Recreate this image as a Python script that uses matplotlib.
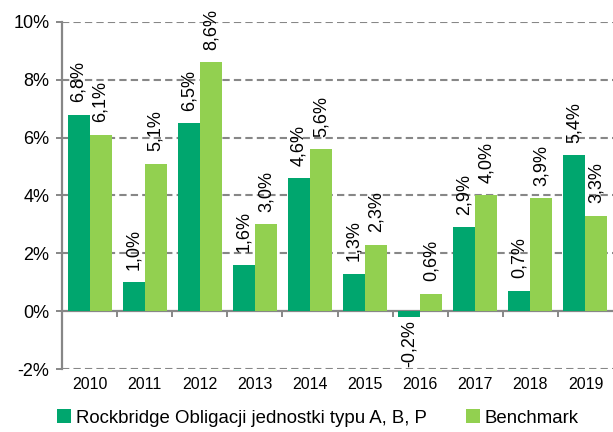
import matplotlib
matplotlib.use("Agg")
import matplotlib.pyplot as plt
import matplotlib.transforms as mtransforms
import numpy as np

plt.rcParams['font.family'] = ['Liberation Sans', 'DejaVu Sans']

years = ["2010", "2011", "2012", "2013", "2014", "2015", "2016", "2017", "2018", "2019"]
fund = [6.8, 1.0, 6.5, 1.6, 4.6, 1.3, -0.2, 2.9, 0.7, 5.4]
bench = [6.1, 5.1, 8.6, 3.0, 5.6, 2.3, 0.6, 4.0, 3.9, 3.3]
fund_name = "Rockbridge Obligacji jednostki typu A, B, P"
bench_name = "Benchmark"

dark = "#00A66E"
light = "#92D050"
grey = "#878787"

fig = plt.figure(figsize=(6.13, 4.32), dpi=100)
ax = fig.add_axes([62/613, 1-369/432, 551/613, (369-22)/432])

x = np.arange(len(years))
w = 0.4
b1 = ax.bar(x - w/2, fund, w, color=dark, label=fund_name, zorder=3)
b2 = ax.bar(x + w/2, bench, w, color=light, label=bench_name, zorder=3)

def fmt(v):
    return f"{v:.1f}%".replace(".", ",")

for bars, vals in ((b1, fund), (b2, bench)):
    for r, v in zip(bars, vals):
        cx = r.get_x() + r.get_width()/2
        if v >= 0:
            ax.annotate(fmt(v), (cx, v), xytext=(0, 9), textcoords="offset points",
                        rotation=90, ha="center", va="bottom", fontsize=13, zorder=4)
        else:
            ax.annotate(fmt(v), (cx, v), xytext=(0, -2), textcoords="offset points",
                        rotation=90, ha="center", va="top", fontsize=13, zorder=4)

ax.set_xlim(-0.5, len(years) - 0.5)
ax.set_ylim(-2, 10)
ax.set_yticks(np.arange(-2, 11, 2))
ax.set_yticklabels([f"{t}%" for t in range(-2, 11, 2)], fontsize=13)

# dashed grid, solid zero line
for t in [-2, 2, 4, 6, 8, 10]:
    ax.axhline(t, color=grey, lw=1.5, dashes=(3.5, 2), zorder=1)

for s in ["top", "right"]:
    ax.spines[s].set_visible(False)
ax.spines["left"].set_color(grey)
ax.spines["left"].set_linewidth(1.6)
ax.spines["bottom"].set_position(("data", 0))
ax.spines["bottom"].set_color(grey)
ax.spines["bottom"].set_linewidth(1.6)
ax.spines["bottom"].set_zorder(2)

ax.set_xticks(x[:-1] + 0.5)
ax.set_xticklabels([])
ax.tick_params(axis="x", direction="out", length=4, width=1.4, color=grey)
ax.tick_params(axis="y", direction="out", length=4, width=1.4, color=grey, pad=5)

trans = mtransforms.blended_transform_factory(ax.transData, ax.transAxes)
for xi, yr in zip(x, years):
    ax.text(xi, -0.045, yr, transform=trans, ha="center", va="center", fontsize=11.5)

fig.legend(handles=[b1, b2], loc="center left", bbox_to_anchor=(57/613, 1-418/432),
           ncol=2, frameon=False, fontsize=13.4, handlelength=0.75, handleheight=0.75,
           handletextpad=0.25, columnspacing=2.1, borderpad=0, borderaxespad=0)

fig.savefig("out.png", dpi=100)
